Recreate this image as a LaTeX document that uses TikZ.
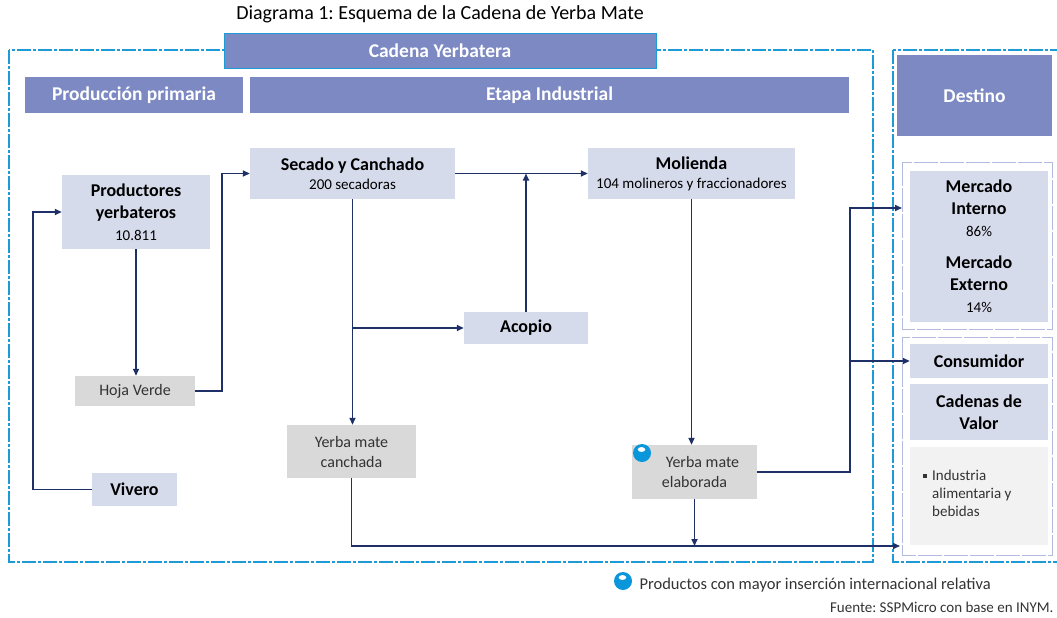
\documentclass[tikz,border=0pt]{standalone}
\usepackage{fontspec}
\setmainfont{Carlito}
\usetikzlibrary{arrows.meta}
\frenchspacing
\definecolor{hdrblue}{HTML}{7D89C3}
\definecolor{boxblue}{HTML}{D6DBEC}
\definecolor{boxgray}{HTML}{D9D9D9}
\definecolor{boxlight}{HTML}{F2F2F2}
\definecolor{txtgray}{HTML}{333333}
\definecolor{arrblue}{HTML}{1F3068}
\definecolor{frameblue}{HTML}{1E9AD6}
\definecolor{grpblue}{HTML}{B3BADF}
\definecolor{ballblue}{HTML}{0A96DA}
\newcommand{\subtxt}[1]{{\fontsize{15}{19}\selectfont\mdseries #1}}
\newcommand{\ballmark}[1]{\fill[ballblue] #1 circle (9); \fill[white] #1 ++(-0.5,-3.5) ellipse (3.8 and 2.4);}

\begin{document}
\begin{tikzpicture}[x=1pt, y=-1pt,
  hdr/.style={fill=hdrblue, text=white, font=\fontsize{19.5}{23}\selectfont\bfseries, inner sep=0pt},
  blu/.style={fill=boxblue, font=\fontsize{18}{22}\selectfont\bfseries, align=center, inner sep=0pt},
  gry/.style={fill=boxgray, text=txtgray, font=\fontsize{16}{20}\selectfont, align=center, inner sep=0pt},
  arr/.style={draw=arrblue, line width=1.6pt, -{Triangle[length=7pt,width=6pt]}},
  frame/.style={draw=frameblue, line width=1.6pt, dash pattern=on 14pt off 2pt on 3pt off 2pt},
  grp/.style={draw=grpblue, line width=1pt, dash pattern=on 24pt off 2pt}]
\useasboundingbox (0,0) rectangle (1057,618);

% outer frames
\draw[frame] (9,50) rectangle (873,562);
\draw[frame] (893,50) rectangle (1065,562);
\draw[grp] (902,162) rectangle (1052,329);
\draw[grp] (902,337) rectangle (1052,555);

\node[font=\fontsize{20}{24}\selectfont] (title) at (440,14) {Diagrama 1: Esquema de la Cadena de Yerba Mate};

% headers
\node[hdr, draw=frameblue, line width=.6pt, minimum width=432, minimum height=35] (cadena) at (440,50.5) {Cadena Yerbatera};
\node[hdr, minimum width=218, minimum height=36] (prim) at (134,95) {Producción primaria};
\node[hdr, minimum width=599, minimum height=36] (etapa) at (549.5,95) {Etapa Industrial};
\node[hdr, minimum width=155, minimum height=81] (destino) at (974.5,95.5) {Destino};

% boxes
\node[blu, minimum width=148, minimum height=74] (prod) at (136,212) {Productores\\yerbateros\\\subtxt{10.811}};
\node[blu, minimum width=205, minimum height=51] (secado) at (352.5,173.5) {Secado y Canchado\\[-3pt]\subtxt{200 secadoras}};
\node[blu, minimum width=207, minimum height=51] (molienda) at (691.5,173.5) {Molienda\\[-3pt]\subtxt{104 molineros y fraccionadores}};
\node[blu, minimum width=124, minimum height=32] (acopio) at (526,328) {Acopio};
\node[gry, minimum width=120, minimum height=30] (hoja) at (135,391) {Hoja Verde};
\node[blu, minimum width=85, minimum height=33] (vivero) at (134.5,489.5) {Vivero};
\node[gry, minimum width=129, minimum height=53] (canchada) at (351.5,451.5) {Yerba mate\\canchada};
\node[gry, minimum width=125, minimum height=54] (elab) at (694.5,472) {\hspace{16pt}Yerba mate\\elaborada};
\ballmark{(642,453)}

\node[blu, minimum width=138, minimum height=151] (merc) at (979,246.5) {Mercado\\Interno\\\subtxt{86\%}\\[10pt]Mercado\\Externo\\\subtxt{14\%}};
\node[blu, minimum width=138, minimum height=34] (cons) at (979,361) {Consumidor};
\node[blu, minimum width=138, minimum height=56] (cadval) at (979,412) {Cadenas de\\Valor};
\node[fill=boxlight, minimum width=138, minimum height=98, inner sep=0pt] (ind) at (979,496) {};
\node[anchor=north west, align=left, text=txtgray, inner sep=0pt, font=\fontsize{15}{18}\selectfont] (indtxt) at (932,470) {\makebox[0pt][r]{\raisebox{3pt}{\rule{4pt}{4pt}}\hspace{5pt}}Industria\\alimentaria y\\bebidas};

% connectors
\coordinate (ent) at (900,546);
\coordinate (mint) at (902,208);
\draw[arr] (prod.south) -- (prod.south |- hoja.north);
\draw[arr] (hoja.east) -- ++(27,0) |- (secado.west);
\draw[arr] (vivero.west) -- ++(-59,0) |- (prod.west);
\draw[arr] (secado.east) -- (molienda.west);
\draw[arr] (acopio.north) -- (acopio.north |- secado.east);
\draw[arr] (secado.south) -- (secado.south |- canchada.north);
\coordinate (br) at (secado.south |- acopio.west);
\draw[arr] (br) -- (acopio.west);
\draw[arr] (canchada.south) |- (ent);
\draw[arr] (molienda.south) -- (molienda.south |- elab.north);
\draw[arr] (elab.south) -- (elab.south |- ent);
\draw[arr] (elab.east) -- ++(93,0) coordinate (sp) |- (mint);
\draw[arr] (sp |- cons.west) -- (cons.west);

% legend
\ballmark{(623,581)}
\node[anchor=west, font=\fontsize{16.5}{20}\selectfont, text=txtgray] (leg) at (636,585) {Productos con mayor inserción internacional relativa};
\node[anchor=east, font=\fontsize{15}{18}\selectfont, text=txtgray] (fuente) at (1057,607) {Fuente: SSPMicro con base en INYM.};
\end{tikzpicture}
\end{document}
